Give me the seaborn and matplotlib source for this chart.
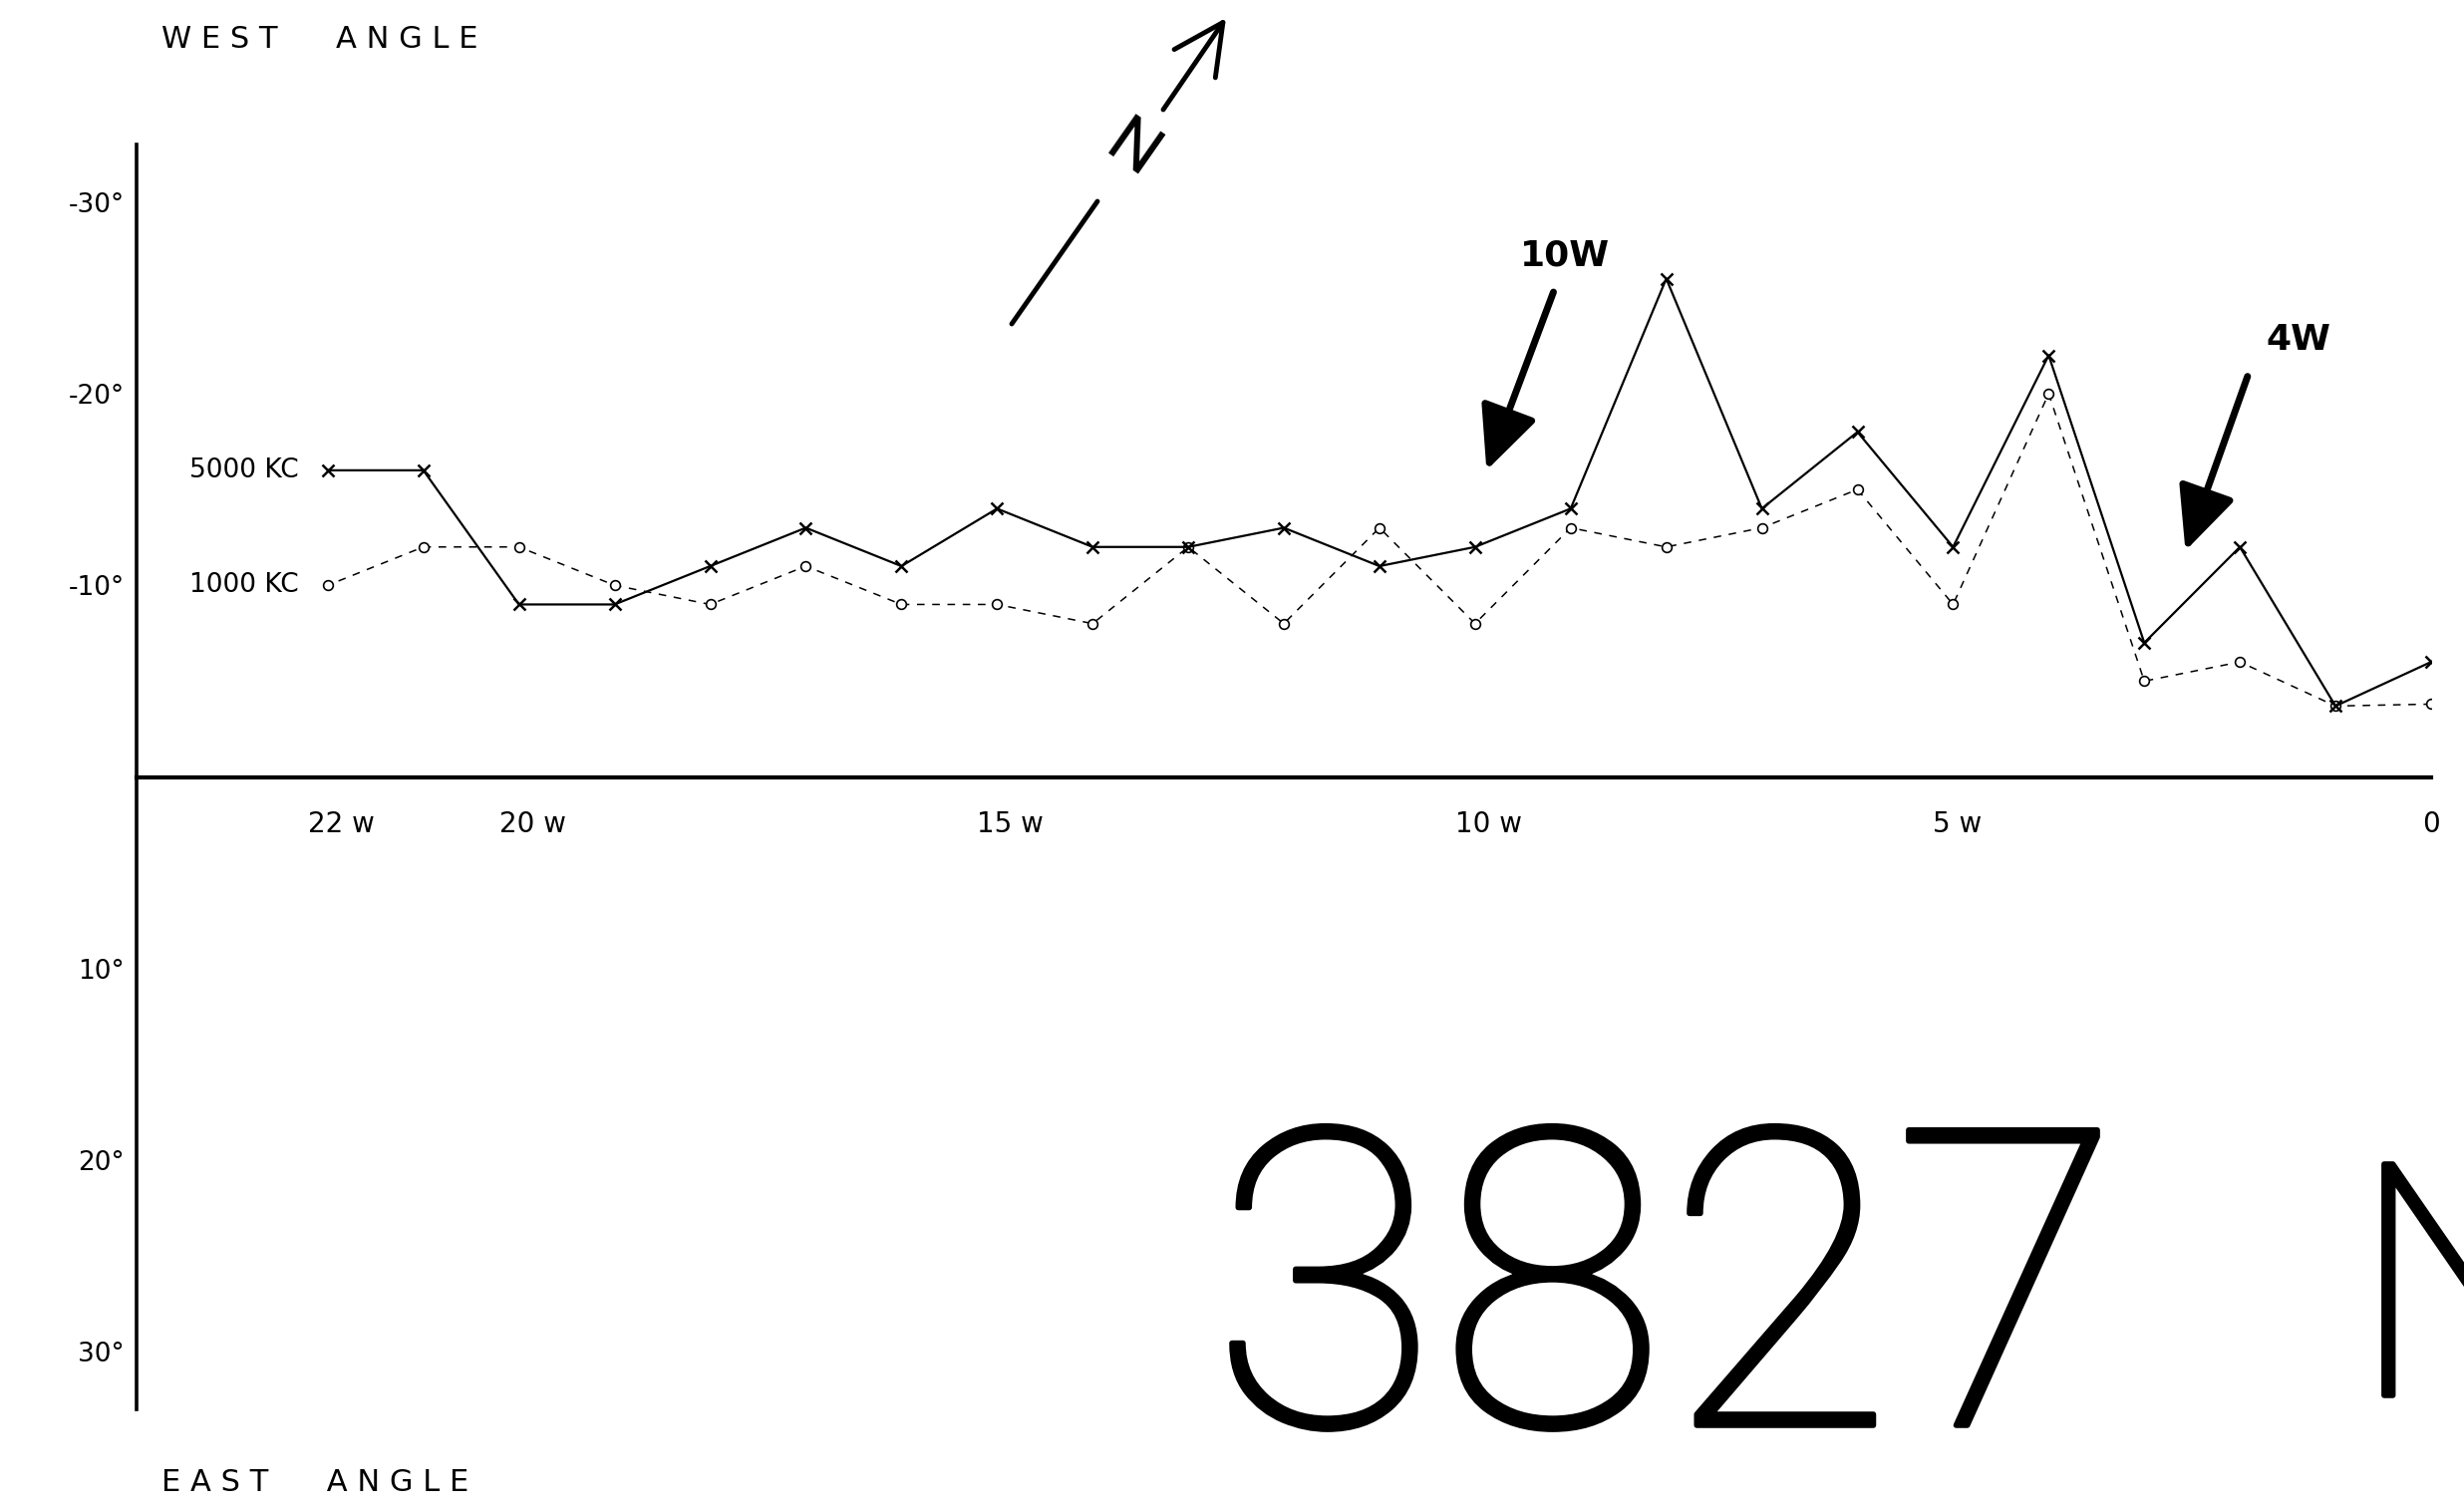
import matplotlib
matplotlib.use("Agg")
import matplotlib.pyplot as plt
from matplotlib.lines import Line2D
import matplotlib.transforms as mtransforms
import matplotlib.patheffects as pe
import pandas as pd
import seaborn as sns

# Stations along the traverse, 22 W down to 0
station = [22, 21, 20, 19, 18, 17, 16, 15, 14, 13, 12, 11, 10, 9, 8, 7, 6, 5, 4, 3, 2, 1, 0]

# Bearing angle in degrees (negative = west of true)
angle_5000kc = [-16, -16, -9, -9, -11, -13, -11, -14, -12, -12, -13, -11, -12,
                -14, -26, -14, -18, -12, -22, -7, -12, -3.7, -6]
angle_1000kc = [-10, -12, -12, -10, -9, -11, -9, -9, -8, -12, -8, -13, -8,
                -13, -12, -13, -15, -9, -20, -5, -6, -3.7, -3.8]

xtick_pos = [22, 20, 15, 10, 5, 0]
xtick_labels = ["22 w", "20 w", "15 w", "10 w", "5 w", "0"]
ytick_pos = [-30, -20, -10, 10, 20, 30]
ytick_labels = ["-30°", "-20°", "-10°", "10°", "20°", "30°"]

W, H = 2472, 1516

def fp(x, y):
    """pixel position (from top-left) -> figure fraction"""
    return (x / W, 1 - y / H)

sns.set_style("white")
plt.rcParams["font.family"] = ["DejaVu Sans"]
plt.rcParams["text.color"] = "black"
plt.rcParams["xtick.color"] = "black"
plt.rcParams["ytick.color"] = "black"

fig = plt.figure(figsize=(W / 100, H / 100), dpi=100)
fig.patch.set_facecolor("white")
ax = fig.add_axes([137 / W, 1 - 1414 / H, (2439 - 137) / W, (1414 - 145) / H])

df = pd.DataFrame({"station": station, "kc5000": angle_5000kc, "kc1000": angle_1000kc})

sns.lineplot(data=df, x="station", y="kc1000", ax=ax, color="black", lw=1.1,
             linestyle=(0, (5, 5)), marker="o", markersize=7,
             markerfacecolor="white", markeredgecolor="black", markeredgewidth=1.2,
             zorder=3)
sns.lineplot(data=df, x="station", y="kc5000", ax=ax, color="black", lw=1.6,
             marker="x", markersize=9, markeredgecolor="black",
             markeredgewidth=1.8, zorder=4)

ax.set_xlim(24, 0)
ax.set_ylim(33, -33)
ax.set_xlabel("")
ax.set_ylabel("")

for s in ("top", "right"):
    ax.spines[s].set_visible(False)
ax.spines["left"].set_linewidth(2.6)
ax.spines["left"].set_color("black")
ax.spines["bottom"].set_position(("data", 0))
ax.spines["bottom"].set_linewidth(3.0)
ax.spines["bottom"].set_color("black")

ax.set_xticks(xtick_pos)
ax.set_xticklabels(xtick_labels, fontsize=20)
ax.set_yticks(ytick_pos)
ax.set_yticklabels(ytick_labels, fontsize=19)
ax.tick_params(axis="x", direction="out", length=10, width=1.4, pad=14)
ax.tick_params(axis="y", direction="out", length=6, width=1.6, pad=3)
shift = mtransforms.ScaledTranslation(-0.2, 0, fig.dpi_scale_trans)
for lbl in ax.get_xticklabels()[:-1]:
    lbl.set_horizontalalignment("left")
    lbl.set_transform(lbl.get_transform() + shift)

# series labels at the left end
ax.text(22.3, -16, "5000 KC", fontsize=19, ha="right", va="center")
ax.text(22.3, -10, "1000 KC", fontsize=19, ha="right", va="center")

# marked stations
arrow_kw = dict(arrowstyle="-|>,head_length=1.3,head_width=0.6", mutation_scale=30,
                lw=5, color="black", shrinkA=0, shrinkB=0)
ax.annotate("", xy=(9.88, -16.0), xytext=(9.18, -25.3), arrowprops=arrow_kw)
ax.text(9.06, -27.2, "10W", fontsize=26, fontweight="bold", ha="center", va="center")
ax.annotate("", xy=(2.57, -11.8), xytext=(1.92, -20.9), arrowprops=arrow_kw)
ax.text(1.39, -22.8, "4W", fontsize=26, fontweight="bold", ha="center", va="center")

# axis direction captions
fig.text(*fp(162, 40), "W E S T      A N G L E", fontsize=22, ha="left", va="center")
fig.text(*fp(162, 1487), "E A S T      A N G L E", fontsize=22, ha="left", va="center")

# north arrow
x0, y0 = fp(1015, 325)
x1, y1 = fp(1101, 202)
fig.add_artist(Line2D([x0, x1], [y0, y1], transform=fig.transFigure,
                      color="black", lw=3.5, solid_capstyle="round"))
ax.annotate("", xy=fp(1230, 18), xytext=fp(1167, 110),
            xycoords="figure fraction", textcoords="figure fraction",
            arrowprops=dict(arrowstyle="->,head_length=0.9,head_width=0.45",
                            mutation_scale=40, lw=3.5, color="black",
                            shrinkA=0, shrinkB=0),
            annotation_clip=False)
fig.text(*fp(1135, 152), "N", fontsize=48, rotation=-35, ha="center", va="center",
         family=["Roboto", "DejaVu Sans"])

# sheet number
thick = [pe.withStroke(linewidth=4, foreground="black")]
fig.text(*fp(1215, 1430), "3827", fontsize=300, ha="left", va="baseline",
         family=["Roboto", "DejaVu Sans"], fontweight="light", path_effects=thick)
fig.text(*fp(2360, 1400), "N", fontsize=235, ha="left", va="baseline",
         family=["Roboto", "DejaVu Sans"], fontweight="light", path_effects=thick)

fig.savefig("out.png", dpi=100, facecolor="white")
